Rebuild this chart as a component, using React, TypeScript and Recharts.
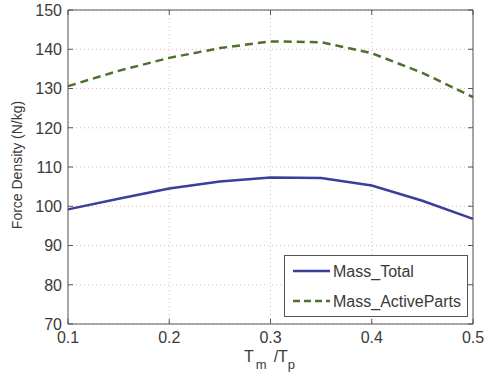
import React from "react";
import {
  LineChart,
  Line,
  XAxis,
  YAxis,
  CartesianGrid,
  ReferenceLine,
} from "recharts";

// Magnet-to-pole pitch ratio samples
const ratios = [0.1, 0.15, 0.2, 0.25, 0.3, 0.35, 0.4, 0.45, 0.5];
// Force density referred to total machine mass (N/kg)
const massTotal = [99.2, 101.9, 104.5, 106.3, 107.3, 107.2, 105.3, 101.4, 96.8];
// Force density referred to active-part mass (N/kg)
const massActiveParts = [130.6, 134.5, 137.8, 140.3, 142.0, 141.8, 139.0, 134.0, 127.8];

const xTicks = [0.1, 0.2, 0.3, 0.4, 0.5];
const yTicks = [70, 80, 90, 100, 110, 120, 130, 140, 150];

const seriesNames = ["Mass_Total", "Mass_ActiveParts"];

const data = ratios.map((r, i) => ({
  r,
  total: massTotal[i],
  active: massActiveParts[i],
}));

const FONT = "'Liberation Sans', Arial, Helvetica, sans-serif";
const TEXT = "#3a3a3a";
const BLUE = "#3b3e9a";
const GREEN = "#4f6f2c";
const AXIS = "#555";

// plot frame geometry (matches the chart margins / axis sizes below)
const CHART_W = 499;
const CHART_H = 375;
const M_TOP = 10;
const M_RIGHT = 26;
const Y_AXIS_W = 68;
const X_AXIS_H = 51;
const PLOT_TOP = M_TOP;
const PLOT_BOTTOM = CHART_H - X_AXIS_H;
const PLOT_LEFT = Y_AXIS_W;
const PLOT_RIGHT = CHART_W - M_RIGHT;
const TICK_MARGIN = 6;
const TICK_LEN = 5;

const XTick = (props: any) => {
  const { x, y, payload } = props;
  return (
    <g>
      <line x1={x} x2={x} y1={PLOT_BOTTOM} y2={PLOT_BOTTOM - TICK_LEN} stroke={AXIS} />
      <line x1={x} x2={x} y1={PLOT_TOP} y2={PLOT_TOP + TICK_LEN} stroke={AXIS} />
      <text
        x={x}
        y={y}
        dy="0.8em"
        textAnchor="middle"
        fontFamily={FONT}
        fontSize={16}
        fill={TEXT}
      >
        {String(payload.value)}
      </text>
    </g>
  );
};

const YTick = (props: any) => {
  const { x, y, payload } = props;
  return (
    <g>
      <line x1={PLOT_LEFT} x2={PLOT_LEFT + TICK_LEN} y1={y} y2={y} stroke={AXIS} />
      <line x1={PLOT_RIGHT} x2={PLOT_RIGHT - TICK_LEN} y1={y} y2={y} stroke={AXIS} />
      <text
        x={x}
        y={y}
        dy="0.36em"
        textAnchor="end"
        fontFamily={FONT}
        fontSize={16}
        fill={TEXT}
      >
        {String(payload.value)}
      </text>
    </g>
  );
};

const LegendBox = () => (
  <div
    style={{
      position: "absolute",
      left: 284,
      top: 255,
      width: 184,
      height: 62,
      border: "1px solid #555",
      background: "#fff",
      boxSizing: "border-box",
    }}
  >
    <svg width={182} height={60} style={{ display: "block" }}>
      <line x1={8} x2={45} y1={15} y2={15} stroke={BLUE} strokeWidth={2.5} />
      <text x={48} y={21} fontFamily={FONT} fontSize={16} fill={TEXT}>
        {seriesNames[0]}
      </text>
      <line
        x1={8}
        x2={45}
        y1={45}
        y2={45}
        stroke={GREEN}
        strokeWidth={2.5}
        strokeDasharray="7 4"
      />
      <text x={48} y={51} fontFamily={FONT} fontSize={16} fill={TEXT}>
        {seriesNames[1]}
      </text>
    </svg>
  </div>
);

export default function App() {
  return (
    <div style={{ position: "absolute", left: 0, top: 0, background: "#fff" }}>
      <LineChart
        width={CHART_W}
        height={CHART_H}
        data={data}
        margin={{ top: M_TOP, right: M_RIGHT, bottom: 0, left: 0 }}
      >
        <CartesianGrid
          xAxisId="main"
          yAxisId="main"
          stroke="#eab3bd"
          strokeDasharray="1 3"
        />
        <XAxis
          xAxisId="main"
          dataKey="r"
          type="number"
          domain={[0.1, 0.5]}
          ticks={xTicks}
          height={X_AXIS_H}
          tickSize={0}
          tickMargin={TICK_MARGIN}
          stroke={AXIS}
          tick={<XTick />}
          label={() => (
            <text x={244} y={362} fontFamily={FONT} fontSize={16} fill={TEXT}>
              T
              <tspan fontSize={13} dy={7} dx={2}>
                m
              </tspan>
              <tspan fontSize={16} dy={-7} dx={7}>
                /T
              </tspan>
              <tspan fontSize={13} dy={7}>
                p
              </tspan>
            </text>
          )}
        />
        <YAxis
          yAxisId="main"
          type="number"
          domain={[70, 150]}
          ticks={yTicks}
          width={Y_AXIS_W}
          tickSize={0}
          tickMargin={TICK_MARGIN}
          stroke={AXIS}
          tick={<YTick />}
          label={() => (
            <text
              x={22}
              y={165}
              transform="rotate(-90 22 165)"
              textAnchor="middle"
              fontFamily={FONT}
              fontSize={14}
              fill={TEXT}
            >
              Force Density (N/kg)
            </text>
          )}
        />
        <ReferenceLine xAxisId="main" yAxisId="main" y={150} stroke={AXIS} strokeWidth={1} />
        <ReferenceLine xAxisId="main" yAxisId="main" x={0.5} stroke={AXIS} strokeWidth={1} />
        <Line
          xAxisId="main"
          yAxisId="main"
          dataKey="total"
          name={seriesNames[0]}
          type="linear"
          stroke={BLUE}
          strokeWidth={2.5}
          dot={false}
          isAnimationActive={false}
        />
        <Line
          xAxisId="main"
          yAxisId="main"
          dataKey="active"
          name={seriesNames[1]}
          type="linear"
          stroke={GREEN}
          strokeWidth={2.5}
          strokeDasharray="8 5"
          dot={false}
          isAnimationActive={false}
        />
      </LineChart>
      <LegendBox />
    </div>
  );
}
